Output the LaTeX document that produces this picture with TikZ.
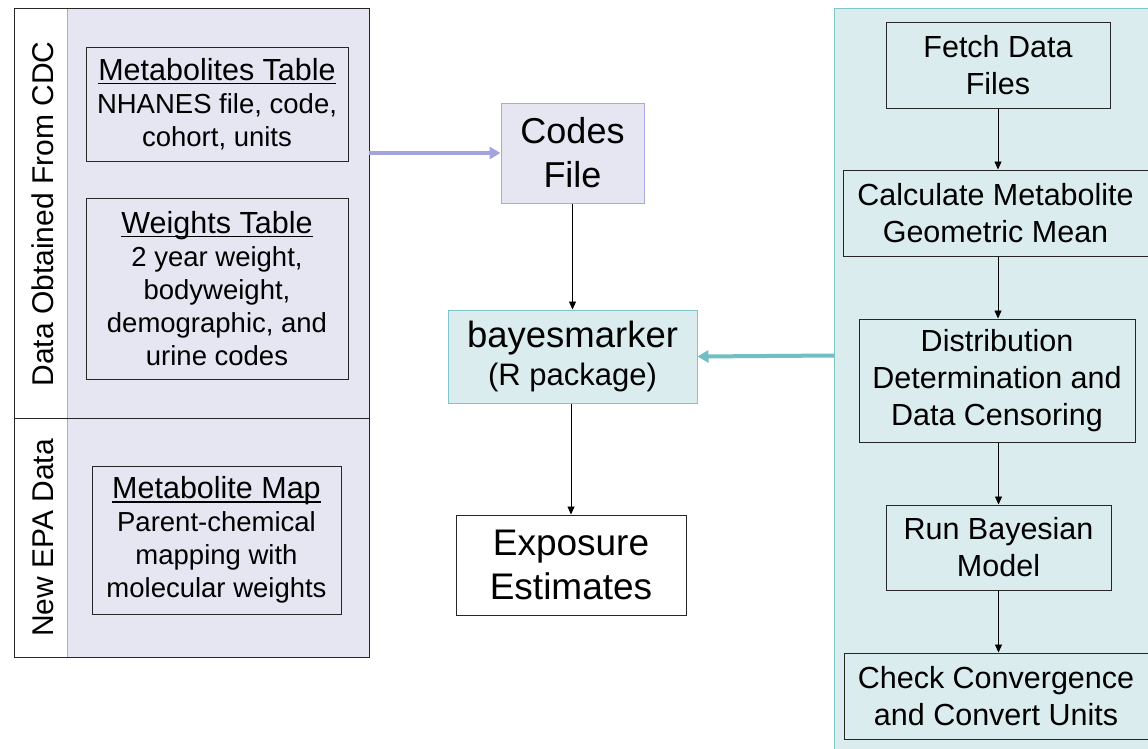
\documentclass[tikz,border=0pt]{standalone}
\usepackage{fontspec}
\setmainfont{Liberation Sans}
\usetikzlibrary{arrows.meta}
\definecolor{lav}{HTML}{E6E6F3}
\definecolor{lavline}{HTML}{A9A9DF}
\definecolor{lavarrow}{HTML}{A3A3DE}
\definecolor{tealfill}{HTML}{DBECEE}
\definecolor{tealline}{HTML}{80C6CA}
\definecolor{tealarrow}{HTML}{6FBFC4}
% table heading: larger type with a rule set just under the baseline
\newcommand\ulhead[1]{{\fontsize{30.5}{33}\selectfont
  \setbox0\hbox{#1}\rlap{\rule[-4pt]{\wd0}{1.6pt}}\box0}}
\begin{document}
\begin{tikzpicture}[x=1pt,y=-1pt,
  box/.style={draw=black!85, line width=1pt, align=center, inner sep=0pt},
  lbox/.style={box, font=\fontsize{27.5}{33}\selectfont},
  rbox/.style={box, font=\fontsize{30.5}{37}\selectfont},
  sidelabel/.style={rotate=90, anchor=base, font=\fontsize{30}{33}\selectfont},
  flow/.style={-{Triangle[length=8pt,width=7pt]}, line width=0.8pt},
  feed/.style={-{Triangle[length=11pt,width=12pt]}, line width=4pt},
]
\useasboundingbox (0,0) rectangle (1148,748);
\fill[white] (0,0) rectangle (1148,748);

% left panel: data sources
\filldraw[fill=lav, draw=lavline, line width=1pt] (67,8) rectangle (369,657);
\draw[black!85, line width=1pt] (14,8) rectangle (369,418);
\draw[black!85, line width=1pt] (14,418) rectangle (369,657);
\node[sidelabel] (cdc) at (53,214) {Data Obtained From CDC};
\node[sidelabel] (epa) at (53,538) {New EPA Data};

\node[lbox, minimum width=262pt, minimum height=114pt] (mtab) at (217,104)
  {\ulhead{Metabolites Table}\\NHANES file, code,\\cohort, units};
\node[lbox, minimum width=262pt, minimum height=181pt] (wtab) at (217,288.5)
  {\ulhead{Weights Table}\\2 year weight,\\bodyweight,\\demographic, and\\urine codes};
\node[lbox, minimum width=249pt, minimum height=148pt] (mmap) at (216.5,540)
  {\ulhead{Metabolite Map}\\Parent-chemical\\mapping with\\molecular weights};
\coordinate (lp) at (369,153);

% right panel: package workflow
\filldraw[fill=tealfill, draw=tealline, line width=1pt] (834,8) rectangle (1170,770);
\coordinate (rp) at (834,355.5);
\node[rbox, minimum width=224pt, minimum height=86pt] (fetch) at (998,65)
  {Fetch Data\\Files};
\node[rbox, minimum width=305pt, minimum height=86pt] (calc) at (995.5,213)
  {Calculate Metabolite\\Geometric Mean};
\node[rbox, minimum width=276pt, minimum height=123pt] (dist) at (997,380.5)
  {Distribution\\Determination and\\Data Censoring};
\node[rbox, minimum width=225pt, minimum height=85pt] (run) at (998.5,547.5)
  {Run Bayesian\\Model};
\node[rbox, minimum width=304pt, minimum height=86pt] (check) at (996,696)
  {Check Convergence\\and Convert Units};

% centre column
\node[box, draw=lavline, fill=lav, minimum width=143pt, minimum height=100pt,
  font=\fontsize{36}{44}\selectfont] (codes) at (572.5,153) {Codes\\File};
\node[box, draw=tealline, fill=tealfill, minimum width=249pt, minimum height=93pt,
  font=\fontsize{36.5}{38}\selectfont] (bayes) at (572.5,356.5)
  {bayesmarker\\{\fontsize{31}{38}\selectfont (R package)}};
\node[box, minimum width=230pt, minimum height=100pt,
  font=\fontsize{37}{44}\selectfont] (expo) at (571,565) {Exposure\\Estimates};

% connectors
\draw[feed, draw=lavarrow] (lp) -- (codes.west);
\draw[feed, draw=tealarrow] (rp) -- (bayes.east);
\draw[flow] (codes.south) -- (bayes.north);
\draw[flow] (bayes.south -| expo.north) -- (expo.north);
\draw[flow] (fetch.south) -- (fetch.south |- calc.north);
\draw[flow] (fetch.south |- calc.south) -- (fetch.south |- dist.north);
\draw[flow] (dist.south -| run.north) -- (run.north);
\draw[flow] (run.south) -- (run.south |- check.north);
\end{tikzpicture}
\end{document}
